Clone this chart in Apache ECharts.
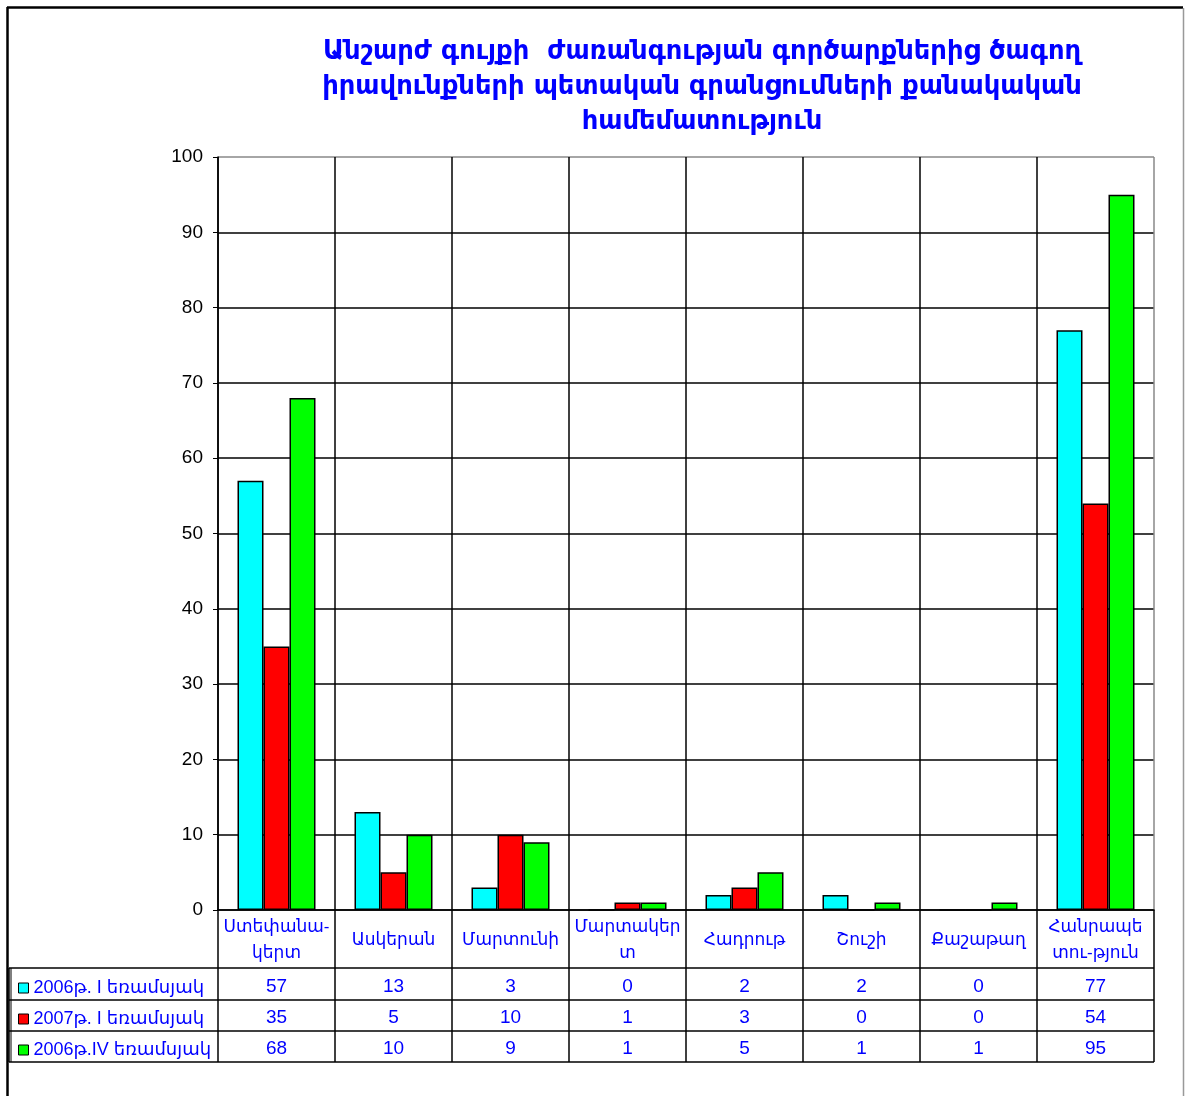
<!DOCTYPE html>
<html>
<head>
<meta charset="utf-8">
<script src="https://cdn.jsdelivr.net/npm/echarts@6/dist/echarts.min.js"></script>
<style>
html,body{margin:0;padding:0;background:#fff;}
#chart{width:1185px;height:1096px;}
</style>
</head>
<body>
<div id="chart"></div>
<script>
const titleText = 'Անշարժ գույքի  ժառանգության գործարքներից ծագող\nիրավունքների պետական գրանցումների քանակական\nհամեմատություն';
const categories = ['Ստեփանա-\nկերտ', 'Ասկերան', 'Մարտունի', 'Մարտակեր\nտ', 'Հադրութ', 'Շուշի', 'Քաշաթաղ', 'Հանրապե\nտու-թյուն'];
const seriesNames = ['2006թ. I եռամսյակ', '2007թ. I եռամսյակ', '2006թ.IV եռամսյակ'];
const q1_2006 = [57, 13, 3, 0, 2, 2, 0, 77];
const q1_2007 = [35, 5, 10, 1, 3, 0, 0, 54];
const q4_2006 = [68, 10, 9, 1, 5, 1, 1, 95];
const seriesColors = ['#00FFFF', '#FF0000', '#00FF00'];
const yTicks = [0, 10, 20, 30, 40, 50, 60, 70, 80, 90, 100];

const allSeries = [q1_2006, q1_2007, q4_2006];
const W = 1185, H = 1096;
const GL = 218, GR = 1154, GT = 157, GB = 910;
const rowLines = [968, 1000, 1031, 1062];
const rowCenters = [987, 1018, 1049];
const TABLE_L = 9;
const blue = '#0000FF';
const font = 'Liberation Sans, Arial, DejaVu Sans, sans-serif';

const chart = echarts.init(document.getElementById('chart'));

const ySplitColors = yTicks.map((t, i) => i === yTicks.length - 1 ? '#888' : '#000');
const xSplitColors = categories.map(() => '#000').concat(['#888']);

const xAxes = [{
  type: 'category',
  data: categories,
  gridIndex: 0,
  position: 'bottom',
  axisLine: { show: true, lineStyle: { color: '#000', width: 1.5 } },
  axisTick: { show: false },
  splitLine: { show: true, interval: 0, lineStyle: { color: xSplitColors, width: 1.5 } },
  axisLabel: {
    interval: 0, margin: 30, verticalAlign: 'middle', lineHeight: 26,
    color: blue, fontSize: 17, fontFamily: font
  }
}];
allSeries.forEach((vals, si) => {
  xAxes.push({
    type: 'category',
    data: categories,
    gridIndex: 0,
    position: 'bottom',
    offset: 0,
    axisLine: { show: false },
    axisTick: { show: false },
    splitLine: { show: false },
    axisLabel: {
      interval: 0, margin: rowCenters[si] - GB, verticalAlign: 'middle',
      color: blue, fontSize: 19, fontFamily: font,
      formatter: (v, idx) => String(vals[idx])
    }
  });
});

const graphics = [];
const lineStyle = { stroke: '#000', lineWidth: 1.5 };
const cw = (GR - GL) / categories.length;
graphics.push({ type: 'line', shape: { x1: 7, y1: 7.5, x2: 1183, y2: 7.5 }, style: { stroke: '#000', lineWidth: 2.5 }, silent: true });
graphics.push({ type: 'line', shape: { x1: 7.5, y1: 7, x2: 7.5, y2: H }, style: { stroke: '#000', lineWidth: 2.5 }, silent: true });
graphics.push({ type: 'line', shape: { x1: 1183.5, y1: 8, x2: 1183.5, y2: H }, style: { stroke: '#999', lineWidth: 1.5 }, silent: true });
rowLines.forEach((y, i) => {
  graphics.push({ type: 'line', shape: { x1: TABLE_L, y1: y, x2: GR, y2: y }, style: lineStyle, silent: true });
});
graphics.push({ type: 'line', shape: { x1: TABLE_L, y1: rowLines[0], x2: TABLE_L, y2: rowLines[3] }, style: lineStyle, silent: true });
graphics.push({ type: 'line', shape: { x1: TABLE_L + 2, y1: rowLines[0], x2: TABLE_L + 2, y2: rowLines[3] }, style: { stroke: '#000', lineWidth: 1 }, silent: true });
for (let i = 0; i <= categories.length; i++) {
  const x = GL + i * cw;
  graphics.push({ type: 'line', shape: { x1: x, y1: GB, x2: x, y2: rowLines[3] }, style: lineStyle, silent: true });
}

chart.setOption({
  animation: false,
  backgroundColor: '#fff',
  title: {
    text: titleText,
    left: 697, top: 30, textAlign: 'center',
    textStyle: { color: blue, fontSize: 25.8, fontWeight: 'bold', lineHeight: 35, fontFamily: 'DejaVu Sans, sans-serif' }
  },
  legend: {
    orient: 'vertical',
    left: 13, top: 974,
    itemWidth: 10, itemHeight: 10, itemGap: 13,
    icon: 'rect',
    data: seriesNames,
    textStyle: { color: blue, fontSize: 18, lineHeight: 18, fontFamily: font, padding: [0, 0, 0, 0] },
    itemStyle: { borderColor: '#000', borderWidth: 1 }
  },
  grid: { left: GL, right: W - GR, top: GT, bottom: H - GB, containLabel: false },
  xAxis: xAxes,
  yAxis: {
    type: 'value', min: 0, max: 100, interval: 10,
    axisLine: { show: true, lineStyle: { color: '#000', width: 1.5 } },
    axisTick: { show: true, length: 5, lineStyle: { color: '#000' } },
    splitLine: { show: true, lineStyle: { color: ySplitColors, width: 1.5 } },
    axisLabel: { color: '#000', fontSize: 19, margin: 15, fontFamily: font }
  },
  series: allSeries.map((vals, si) => ({
    type: 'bar',
    name: seriesNames[si],
    xAxisIndex: 0,
    data: vals,
    barWidth: 26,
    barGap: '0%',
    itemStyle: { color: seriesColors[si], borderColor: '#000', borderWidth: 1.5 }
  })),
  graphic: graphics
});
</script>
</body>
</html>
